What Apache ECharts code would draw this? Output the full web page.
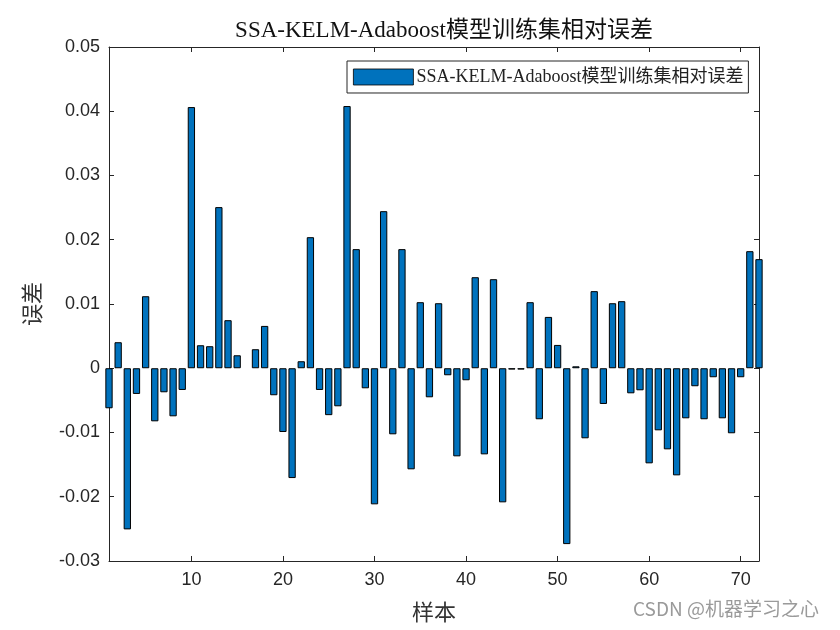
<!DOCTYPE html>
<html>
<head>
<meta charset="utf-8">
<script src="https://cdn.jsdelivr.net/npm/echarts@6/dist/echarts.min.js"></script>
<style>html,body{margin:0;padding:0;background:#fff;}#c{width:840px;height:630px;}</style>
</head>
<body>
<div id="c"></div>
<script>
const titleText = 'SSA-KELM-Adaboost模型训练集相对误差';
const seriesName = 'SSA-KELM-Adaboost模型训练集相对误差';
const xLabel = '样本';
const yLabel = '误差';
const sampleIdx = [1,2,3,4,5,6,7,8,9,10,11,12,13,14,15,16,17,18,19,20,21,22,23,24,25,26,27,28,29,30,31,32,33,34,35,36,37,38,39,40,41,42,43,44,45,46,47,48,49,50,51,52,53,54,55,56,57,58,59,60,61,62,63,64,65,66,67,68,69,70,71,72];
const errors = [
 -0.00623, 0.00405, -0.02508, -0.0040, 0.01121, -0.00826, -0.00374, -0.00748, -0.00338, 0.04065,
 0.00358, 0.00343, 0.02508, 0.00748, 0.00202, null, 0.00296, 0.00659, -0.0042, -0.00992,
 -0.01709, 0.00109, 0.0204, -0.00338, -0.0073, -0.00592, 0.04081, 0.01854, -0.00312, -0.02118,
 0.02445, -0.01028, 0.01854, -0.01573, 0.01028, -0.00452, 0.01012, -0.00109, -0.01371, -0.00187,
 0.01417, -0.0134, 0.01386, -0.02087, -0.0002, -0.0002, 0.01028, -0.00794, 0.00799, 0.00363,
 -0.02737, 0.0003, -0.0109, 0.012, -0.00556, 0.01012, 0.01044, -0.0039, -0.00343, -0.0148,
 -0.00966, -0.01262, -0.01667, -0.00779, -0.0028, -0.00794, -0.0014, -0.00779, -0.01012, -0.0014,
 0.01822, 0.01698
];
const xTicks = [10,20,30,40,50,60,70];
const yMin = -0.03, yMax = 0.05, yStep = 0.01;
const xMin = 1, xMax = 72;

const chart = echarts.init(document.getElementById('c'), null, {renderer:'canvas'});
const axisCol = '#262626';
const serif = "'Liberation Serif','Times New Roman','Noto Sans CJK SC',serif";
const sans = "'Liberation Sans',Arial,sans-serif";

const xAxisBase = {
  type:'value', min:xMin, max:xMax,
  axisLine:{show:true, onZero:false, lineStyle:{color:axisCol, width:1}},
  splitLine:{show:false}
};
const yAxisBase = {
  type:'value', min:yMin, max:yMax, interval:yStep,
  axisLine:{show:true, onZero:false, lineStyle:{color:axisCol, width:1}},
  splitLine:{show:false}
};

chart.setOption({
  animation:false,
  backgroundColor:'#fff',
  title:{
    text:titleText, left:439, top:14, textAlign:'center',
    textStyle:{fontFamily:serif, fontSize:23, fontWeight:'normal', color:'#111'}
  },
  legend:{
    data:[seriesName], left:347, top:61,
    itemWidth:60, itemHeight:16, itemGap:4,
    padding:[7,5,7,6],
    borderColor:'#262626', borderWidth:1, backgroundColor:'#fff',
    icon:'rect',
    itemStyle:{borderWidth:0.8},
    textStyle:{fontFamily:serif, fontSize:18, color:'#222', padding:[0,0,0,-2]}
  },
  grid:{left:109, right:81, top:47, bottom:69, containLabel:false},
  xAxis:[
    Object.assign({}, xAxisBase, {
      position:'bottom',
      axisTick:{show:true, inside:true, length:5, lineStyle:{color:axisCol}, customValues:xTicks},
      axisLabel:{show:true, fontFamily:sans, fontSize:18, color:axisCol, margin:10, customValues:xTicks},
      name:xLabel, nameLocation:'middle', nameGap:42,
      nameTextStyle:{fontFamily:serif, fontSize:22, color:'#333'}
    }),
    Object.assign({}, xAxisBase, {
      position:'top',
      axisTick:{show:true, inside:true, length:5, lineStyle:{color:axisCol}, customValues:xTicks},
      axisLabel:{show:false}
    })
  ],
  yAxis:[
    Object.assign({}, yAxisBase, {
      position:'left',
      axisTick:{show:true, inside:true, length:5, lineStyle:{color:axisCol}},
      axisLabel:{show:true, fontFamily:sans, fontSize:18, color:axisCol, margin:9,
        formatter:function(v){ return (Math.round(v*100)/100).toString(); }},
      name:yLabel, nameLocation:'middle', nameGap:64, nameRotate:90,
      nameTextStyle:{fontFamily:serif, fontSize:22, color:'#333'}
    }),
    Object.assign({}, yAxisBase, {
      position:'right',
      axisTick:{show:true, inside:true, length:5, lineStyle:{color:axisCol}},
      axisLabel:{show:false}
    })
  ],
  series:[{
    name:seriesName, type:'bar',
    xAxisIndex:0, yAxisIndex:0,
    data: sampleIdx.map((x,i)=>[x, errors[i]]),
    barWidth:7.3,
    clip:true,
    itemStyle:{color:'#0072BD', borderColor:'#000', borderWidth:1}
  }],
  graphic:[{
    type:'text', left:633, top:599,
    style:{text:'CSDN @机器学习之心', fontFamily:"'Noto Sans CJK SC',sans-serif", fontSize:19, fill:'#9a9a9a'}
  }]
});
</script>
</body>
</html>
